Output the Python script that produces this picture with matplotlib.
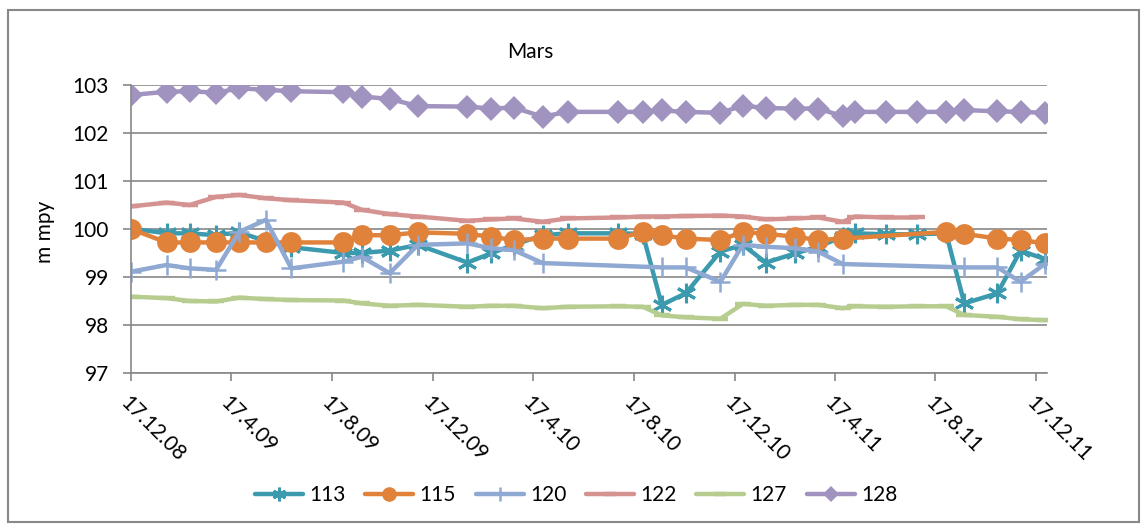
import matplotlib
matplotlib.use("Agg")
import matplotlib.pyplot as plt
import matplotlib.transforms as mtransforms
from matplotlib.patches import Rectangle
import numpy as np
import pandas as pd

plt.rcParams['font.family'] = ['Lato', 'DejaVu Sans']

# measurement dates (shared by all series)
dates = pd.to_datetime([
    "2008-12-17", "2009-01-29", "2009-02-26", "2009-03-30", "2009-04-27",
    "2009-05-29", "2009-06-29", "2009-08-31", "2009-09-22", "2009-10-26",
    "2009-11-29", "2010-01-28", "2010-02-25", "2010-03-25", "2010-04-29",
    "2010-05-29", "2010-07-29", "2010-08-28", "2010-09-20", "2010-10-19",
    "2010-11-30", "2010-12-27", "2011-01-24", "2011-02-28", "2011-03-28",
    "2011-04-27", "2011-05-12", "2011-06-18", "2011-07-26", "2011-08-30",
    "2011-09-21", "2011-10-31", "2011-11-28", "2011-12-28",
])

nan = np.nan
s113 = [100.01, 99.91, 99.91, 99.87, 99.93, 99.75, 99.62, 99.50, 99.50, 99.55,
        99.67, 99.30, 99.49, 99.67, 99.87, 99.91, 99.91, 99.90, 98.42, 98.66,
        99.53, 99.67, 99.30, 99.49, 99.63, 99.84, 99.91, 99.89, 99.89, 99.91,
        98.45, 98.66, 99.55, 99.37]
s115 = [100.00, 99.72, 99.72, 99.72, 99.72, 99.72, 99.72, 99.72, 99.87, 99.87,
        99.93, 99.90, 99.84, 99.77, 99.80, 99.80, 99.80, 99.94, 99.87, 99.80,
        99.77, 99.94, 99.90, 99.84, 99.77, 99.80, nan, nan, nan, 99.94,
        99.90, 99.80, 99.77, 99.70]
s120 = [99.11, 99.25, 99.18, 99.15, 99.94, 100.19, 99.18, 99.32, 99.42, 99.08,
        99.67, 99.70, 99.60, 99.56, 99.29, nan, nan, nan, 99.20, 99.20,
        98.90, 99.67, 99.63, 99.60, 99.53, 99.27, nan, nan, nan, nan,
        99.20, 99.20, 98.90, 99.28]
s122 = [100.47, 100.55, 100.50, 100.67, 100.71, 100.64, 100.60, 100.55, 100.40, 100.31,
        100.26, 100.17, 100.20, 100.22, 100.15, 100.22, 100.24, 100.26, 100.26, 100.27,
        100.28, 100.26, 100.20, 100.22, 100.24, 100.15, 100.26, 100.24, 100.24, nan,
        nan, nan, nan, nan]
s127 = [98.59, 98.56, 98.50, 98.49, 98.57, 98.54, 98.52, 98.51, 98.45, 98.40,
        98.42, 98.38, 98.40, 98.40, 98.35, 98.38, 98.39, 98.38, 98.20, 98.16,
        98.13, 98.44, 98.40, 98.42, 98.42, 98.35, 98.39, 98.38, 98.39, 98.39,
        98.21, 98.17, 98.12, 98.10]
s128 = [102.79, 102.86, 102.87, 102.84, 102.93, 102.90, 102.87, 102.85, 102.76, 102.71,
        102.56, 102.55, 102.51, 102.53, 102.34, 102.44, 102.44, 102.44, 102.47, 102.44,
        102.42, 102.57, 102.52, 102.51, 102.51, 102.35, 102.44, 102.44, 102.44, 102.44,
        102.48, 102.45, 102.44, 102.42]

series_names = ["113", "115", "120", "122", "127", "128"]
df = pd.DataFrame({"113": s113, "115": s115, "120": s120, "122": s122,
                   "127": s127, "128": s128}, index=dates)

tick_dates = pd.to_datetime(["2008-12-17", "2009-04-17", "2009-08-17", "2009-12-17",
                             "2010-04-17", "2010-08-17", "2010-12-17", "2011-04-17",
                             "2011-08-17", "2011-12-17"])
tick_labels = [f"{d.day}.{d.month}.{d:%y}" for d in tick_dates]

styles = {
    "113": dict(color="#3c9aaf", marker=(6, 2, 0), markersize=14, mew=2.2),
    "115": dict(color="#e0823a", marker="o", markersize=15, mew=0),
    "120": dict(color="#8fa9d3", marker="+", markersize=15, mew=1.8),
    "122": dict(color="#d49290", marker="_", markersize=12, mew=3.2),
    "127": dict(color="#b7cd8f", marker="_", markersize=12, mew=3.2),
    "128": dict(color="#a193bf", marker="D", markersize=12, mew=0),
}

fig = plt.figure(figsize=(11.44, 5.26), dpi=100)
fig.patches.append(Rectangle((8 / 1144, 4 / 526), 1131 / 1144, 512 / 526,
                             transform=fig.transFigure, fill=False,
                             edgecolor="#888888", linewidth=1.5))
ax = fig.add_axes([131 / 1144, 1 - 373 / 526, 916 / 1144, 288 / 526])

for name in series_names:
    s = df[name].dropna()
    st = styles[name]
    ax.plot(s.index, s.values, color=st["color"], linewidth=3.2,
            marker=st["marker"], markersize=st["markersize"],
            markeredgewidth=st["mew"], markeredgecolor=st["color"],
            markerfacecolor=st["color"], label=name, solid_capstyle="round")

ax.set_ylim(97, 103)
ax.set_yticks(range(97, 104))
ax.set_xlim(pd.Timestamp("2008-12-17"), pd.Timestamp("2011-12-30"))
ax.set_xticks(tick_dates)
ax.set_xticklabels(tick_labels, rotation=-45, ha="left", va="top",
                   rotation_mode="anchor", fontsize=15)
# nudge the slanted labels a little to the right, like the original
shift = mtransforms.ScaledTranslation(6 / 100, 0, fig.dpi_scale_trans)
for lbl in ax.get_xticklabels():
    lbl.set_transform(lbl.get_transform() + shift)

ax.grid(axis="y", color="#888888", linewidth=1.2)
ax.set_axisbelow(True)
for sp in ["top", "right"]:
    ax.spines[sp].set_visible(False)
for sp in ["left", "bottom"]:
    ax.spines[sp].set_color("#888888")
    ax.spines[sp].set_linewidth(1.2)
ax.tick_params(axis="both", colors="#888888", labelcolor="black",
               length=6, width=1.2)
ax.tick_params(axis="y", pad=10, labelsize=15)
ax.tick_params(axis="x", pad=8)

fig.text(530 / 1144, 1 - 52 / 526, "Mars", fontsize=15, ha="center", va="center")
fig.text(45 / 1144, 1 - 232 / 526, "m mpy", fontsize=15, ha="center", va="center",
         rotation=90)

leg = ax.legend(loc="center", ncol=6, frameon=False, fontsize=15, handlelength=2.3,
                handletextpad=0.3, columnspacing=0.95, markerscale=0.7)
leg.set_bbox_to_anchor((576 / 1144, 1 - 495 / 526), transform=fig.transFigure)

fig.savefig("out.png", dpi=100)
